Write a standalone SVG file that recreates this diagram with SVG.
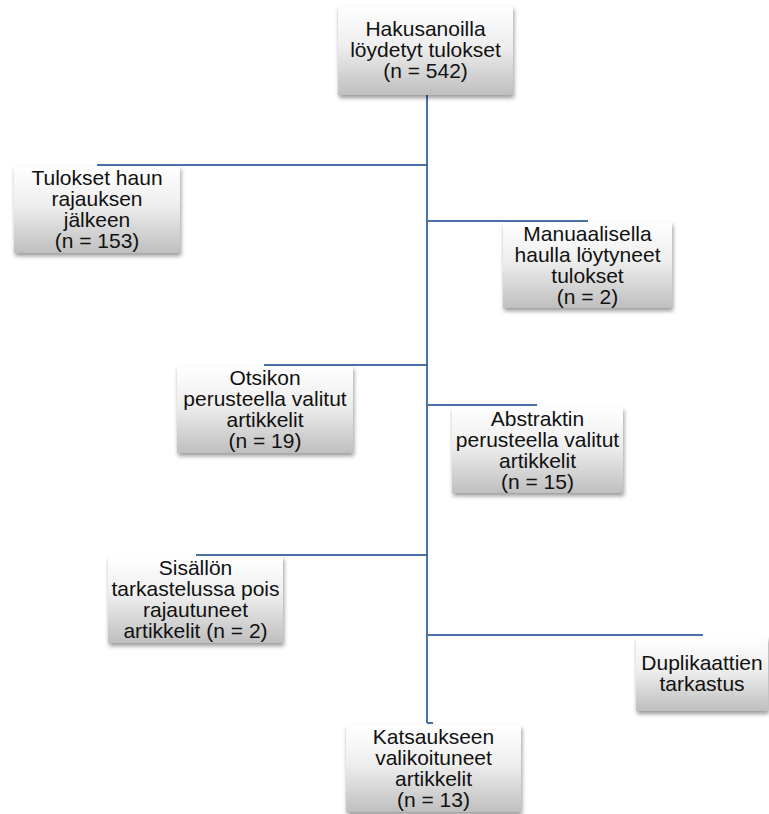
<svg xmlns="http://www.w3.org/2000/svg" width="769" height="814" viewBox="0 0 769 814">
<defs>
<linearGradient id="g" x1="0" y1="0" x2="0" y2="1">
<stop offset="0" stop-color="#ffffff"/>
<stop offset="0.45" stop-color="#eeeeee"/>
<stop offset="1" stop-color="#bfbfbf"/>
</linearGradient>
<filter id="sh" x="-10%" y="-10%" width="125%" height="130%">
<feDropShadow dx="1" dy="3" stdDeviation="2" flood-color="#000" flood-opacity="0.4"/>
</filter>
</defs>
<style>
.box{fill:url(#g);filter:url(#sh);}
.t{font-family:"Liberation Sans",Arial,sans-serif;font-size:21px;fill:#111;text-anchor:middle;}
.c{stroke:#4a71a8;stroke-width:2;fill:none;}
</style>
<g id="connectors">
<path class="c" d="M427 95 V723" stroke-width="2.5"/>
<path class="c" d="M97 165 H427"/>
<path class="c" d="M427 221 H588"/>
<path class="c" d="M264 365 H427"/>
<path class="c" d="M427 405 H537"/>
<path class="c" d="M196 555 H427"/>
<path class="c" d="M427 635 H703"/>
<path class="c" d="M427 723 H433"/>
</g>
<g id="n1">
<rect class="box" x="338" y="6" width="175" height="89"/>
<text class="t" x="425.5" y="36">Hakusanoilla</text>
<text class="t" x="425.5" y="57">löydetyt tulokset</text>
<text class="t" x="425.5" y="78">(n = 542)</text>
</g>
<g id="n2">
<rect class="box" x="14" y="166" width="166" height="87"/>
<text class="t" x="97" y="185">Tulokset haun</text>
<text class="t" x="97" y="206">rajauksen</text>
<text class="t" x="97" y="227">jälkeen</text>
<text class="t" x="97" y="248">(n = 153)</text>
</g>
<g id="n3">
<rect class="box" x="503" y="222" width="169" height="86"/>
<text class="t" x="587.5" y="240.5">Manuaalisella</text>
<text class="t" x="587.5" y="261.5">haulla löytyneet</text>
<text class="t" x="587.5" y="282.5">tulokset</text>
<text class="t" x="587.5" y="303.5">(n = 2)</text>
</g>
<g id="n4">
<rect class="box" x="177" y="366" width="176" height="87"/>
<text class="t" x="265" y="385">Otsikon</text>
<text class="t" x="265" y="406">perusteella valitut</text>
<text class="t" x="265" y="427">artikkelit</text>
<text class="t" x="265" y="448">(n = 19)</text>
</g>
<g id="n5">
<rect class="box" x="452" y="407" width="171" height="86"/>
<text class="t" x="537.5" y="425.5">Abstraktin</text>
<text class="t" x="537.5" y="446.5">perusteella valitut</text>
<text class="t" x="537.5" y="467.5">artikkelit</text>
<text class="t" x="537.5" y="488.5">(n = 15)</text>
</g>
<g id="n6">
<rect class="box" x="108" y="556" width="175" height="87"/>
<text class="t" x="195.5" y="575">Sisällön</text>
<text class="t" x="195.5" y="596">tarkastelussa pois</text>
<text class="t" x="195.5" y="617">rajautuneet</text>
<text class="t" x="195.5" y="638">artikkelit (n = 2)</text>
</g>
<g id="n7">
<rect class="box" x="636" y="637" width="132" height="74"/>
<text class="t" x="702" y="670">Duplikaattien</text>
<text class="t" x="702" y="691">tarkastus</text>
</g>
<g id="n8">
<rect class="box" x="346" y="725" width="175" height="87"/>
<text class="t" x="433.5" y="744">Katsaukseen</text>
<text class="t" x="433.5" y="765">valikoituneet</text>
<text class="t" x="433.5" y="786">artikkelit</text>
<text class="t" x="433.5" y="807">(n = 13)</text>
</g>
</svg>
